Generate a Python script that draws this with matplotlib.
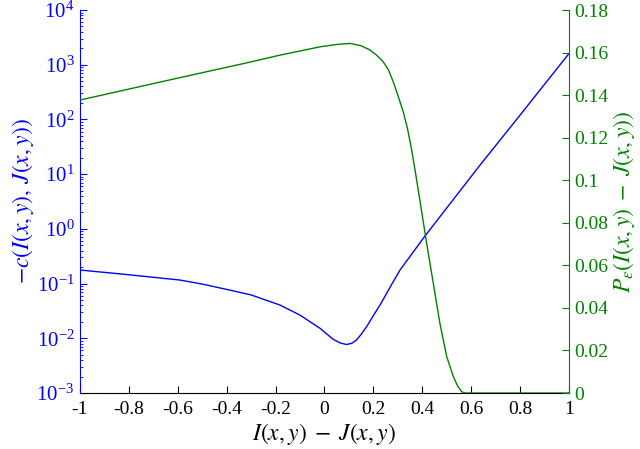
import numpy as np
import matplotlib
matplotlib.use("Agg")
import matplotlib.pyplot as plt
from matplotlib.ticker import FormatStrFormatter, LogLocator, FixedLocator

plt.rcParams['font.family'] = ['Liberation Serif', 'DejaVu Serif']
plt.rcParams['mathtext.fontset'] = 'stix'
plt.rcParams['axes.unicode_minus'] = False

# values
# cost curve (left, log scale)
x_cost = [-1.0, -0.8, -0.591, -0.5, -0.387, -0.3, -0.182, -0.10, -0.018, 0.036, 0.065,
          0.090, 0.112, 0.131, 0.150, 0.172, 0.20, 0.227, 0.254, 0.281, 0.309, 0.411,
          0.636, 0.80, 1.0]
cost = [0.177, 0.145, 0.116, 0.098, 0.076, 0.062, 0.0405, 0.0265, 0.0152, 0.00955, 0.0082,
        0.0077, 0.0081, 0.0093, 0.0118, 0.0162, 0.026, 0.0405, 0.066, 0.108, 0.177, 0.74,
        14.6, 120.0, 1600.0]

# probability curve (right, linear)
x_prob = [-1.0, -0.6, -0.305, -0.182, -0.018, 0.05, 0.104, 0.15, 0.186, 0.213, 0.240,
          0.262, 0.281, 0.30, 0.322, 0.340, 0.356, 0.373, 0.390, 0.418, 0.445, 0.472,
          0.500, 0.527, 0.545, 0.561, 0.575, 0.6, 0.8, 1.0]
prob = [0.1377, 0.148, 0.1555, 0.1588, 0.1627, 0.1638, 0.1643, 0.1632, 0.1612, 0.1588, 0.1557,
        0.1518, 0.1463, 0.140, 0.1322, 0.124, 0.1146, 0.1030, 0.0907, 0.0703, 0.0516, 0.0328,
        0.0171, 0.0077, 0.0032, 0.0006, 0.0, 0.0, 0.0, 0.0]

xticks = [-1, -0.8, -0.6, -0.4, -0.2, 0, 0.2, 0.4, 0.6, 0.8, 1]
rticks = [0, 0.02, 0.04, 0.06, 0.08, 0.1, 0.12, 0.14, 0.16, 0.18]

blue = (0, 0, 1)
green = (0, 0.5, 0)

fig = plt.figure(figsize=(6.4, 4.49), dpi=100)
ax = fig.add_axes([0.125, 0.1247, 0.764, 0.853])
ax2 = ax.twinx()

ax.semilogy(x_cost, cost, color=blue, lw=1)
ax2.plot(x_prob, prob, color=green, lw=1)

ax.set_xlim(-1, 1)
ax.set_ylim(1e-3, 1e4)
ax2.set_ylim(0, 0.18)

ax.set_xticks(xticks)
ax.xaxis.set_major_formatter(FormatStrFormatter('%g'))
ax.yaxis.set_major_locator(LogLocator(base=10, numticks=20))
ax.yaxis.set_minor_locator(LogLocator(base=10, subs=np.arange(2, 10), numticks=20))
ax2.yaxis.set_major_locator(FixedLocator(rticks))
ax2.yaxis.set_major_formatter(FormatStrFormatter('%g'))

for a in (ax, ax2):
    a.spines['top'].set_visible(False)
ax2.spines['left'].set_visible(False)
ax2.spines['bottom'].set_visible(False)
ax.spines['right'].set_visible(False)
ax.spines['left'].set_color(blue)
ax2.spines['right'].set_color(green)
ax.spines['bottom'].set_color('black')

ax.tick_params(axis='x', direction='in', length=5, labelsize=14, pad=6)
ax.tick_params(axis='y', which='major', direction='in', length=5, colors=blue, labelsize=15, pad=4)
ax.tick_params(axis='y', which='minor', direction='in', length=2.5, colors=blue)
ax2.tick_params(axis='y', direction='in', length=5, colors=green, labelsize=14)
ax2.tick_params(axis='x', labelbottom=False, labeltop=False)

ax.set_xlabel(r'$I(x,y)\;-\;J(x,y)$', fontsize=17, labelpad=2)
ax.set_ylabel(r'$-c(I(x,y),\,J(x,y))$', fontsize=17, color=blue, labelpad=0)
ax2.set_ylabel(r'$P_{\varepsilon}(I(x,y)\;-\;J(x,y))$', fontsize=17, color=green, labelpad=2)

fig.savefig('out.png', dpi=100)
